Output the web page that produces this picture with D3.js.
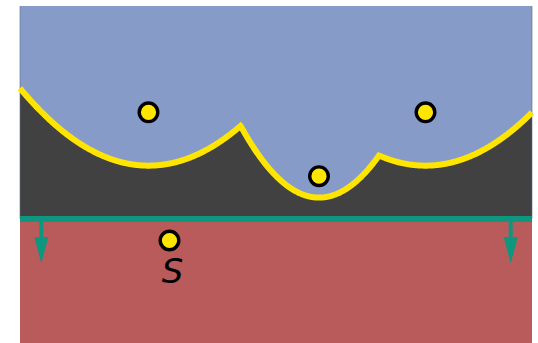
<!DOCTYPE html>
<html>
<head>
<meta charset="utf-8">
<script src="https://cdn.jsdelivr.net/npm/d3@7"></script>
<style>
body { margin: 0; background: #fff; }
</style>
</head>
<body>
<script>
var w = 538, h = 343;
var margin = {top: 6, right: 6, bottom: 0, left: 20};

// sites above the sweep line (beach line arcs) and the next site below it
var siteX = [128.5, 299, 405.5];
var siteY = [106.3, 170.2, 106.3];
var nextSite = {x: 149.5, y: 234.5, label: "S"};
var sweepY = 213;
var arrowX = [21.3, 490.7];
var arrowLen = 44;

var xScale = d3.scaleLinear().domain([0, 512]).range([margin.left, w - margin.right]);
var yScale = d3.scaleLinear().domain([0, 337]).range([margin.top, h - margin.bottom]);

var svg = d3.select('body').append('svg')
    .attr('width', w)
    .attr('height', h);

svg.append('defs').append('marker')
    .attr('id', 'arrow')
    .attr('viewBox', '0 0 10 10')
    .attr('refX', 0)
    .attr('refY', 5)
    .attr('markerWidth', 6.6)
    .attr('markerHeight', 3.5)
    .attr('markerUnits', 'strokeWidth')
    .attr('orient', 'auto')
    .attr('preserveAspectRatio', 'none')
    .append('path')
    .attr('d', 'M0,0 L10,5 L0,10 z')
    .attr('fill', '#0f967e');

// beach line: for each x take the parabola closest to the sweep line
function arcY(i, x) {
    var a = siteX[i], b = siteY[i], d = sweepY;
    return ((x - a) * (x - a) + b * b - d * d) / (2 * (b - d));
}
var xs = d3.range(0, 512.5, 0.5);
var beach = xs.map(function (x) {
    var y = d3.max(siteX.map(function (a, i) { return arcY(i, x); }));
    return [x, y];
});

// blue sky above the beach line
svg.append('rect')
    .attr('x', xScale(0)).attr('y', yScale(0))
    .attr('width', xScale(512) - xScale(0))
    .attr('height', yScale(sweepY) - yScale(0))
    .attr('fill', '#879bc9');

// dark gray between beach line and sweep line
var area = d3.area()
    .x(function (d) { return xScale(d[0]); })
    .y0(yScale(sweepY))
    .y1(function (d) { return yScale(d[1]); });
svg.append('path')
    .datum(beach)
    .attr('d', area)
    .attr('fill', '#414141');

// red below the sweep line
svg.append('rect')
    .attr('x', xScale(0)).attr('y', yScale(sweepY))
    .attr('width', xScale(512) - xScale(0))
    .attr('height', yScale(337) - yScale(sweepY))
    .attr('fill', '#b95b5a');

// frame sides
svg.selectAll('.side')
    .data([0, 512])
    .enter().append('line')
    .attr('class', 'side')
    .attr('x1', function (d) { return xScale(d); })
    .attr('x2', function (d) { return xScale(d); })
    .attr('y1', yScale(0))
    .attr('y2', yScale(sweepY))
    .attr('stroke', '#5d6a88')
    .attr('stroke-opacity', 0.6)
    .attr('stroke-width', 1);

// beach line curve
var line = d3.line()
    .x(function (d) { return xScale(d[0]); })
    .y(function (d) { return yScale(d[1]); });
svg.append('path')
    .datum(beach)
    .attr('d', line)
    .attr('fill', 'none')
    .attr('stroke', '#ffe500')
    .attr('stroke-width', 6)
    .attr('stroke-linejoin', 'miter');

// sweep line and arrows
svg.selectAll('.arrow')
    .data(arrowX)
    .enter().append('line')
    .attr('class', 'arrow')
    .attr('x1', function (d) { return xScale(d); })
    .attr('x2', function (d) { return xScale(d); })
    .attr('y1', yScale(sweepY))
    .attr('y2', yScale(sweepY + arrowLen - 26))
    .attr('stroke', '#0f967e')
    .attr('stroke-width', 4)
    .attr('marker-end', 'url(#arrow)');

svg.append('line')
    .attr('x1', xScale(0)).attr('x2', xScale(512))
    .attr('y1', yScale(sweepY)).attr('y2', yScale(sweepY))
    .attr('stroke', '#0f967e')
    .attr('stroke-width', 6);

// sites
var pts = siteX.map(function (x, i) { return {x: x, y: siteY[i]}; }).concat([nextSite]);
svg.selectAll('.site')
    .data(pts)
    .enter().append('circle')
    .attr('class', 'site')
    .attr('cx', function (d) { return xScale(d.x); })
    .attr('cy', function (d) { return yScale(d.y); })
    .attr('r', 9.3)
    .attr('fill', '#ffe500')
    .attr('stroke', '#000')
    .attr('stroke-width', 3.4);

svg.append('text')
    .attr('x', xScale(nextSite.x) + 3)
    .attr('y', yScale(nextSite.y) + 42.5)
    .attr('text-anchor', 'middle')
    .style('font-family', 'DejaVu Sans')
    .style('font-style', 'oblique')
    .style('font-size', '34px')
    .attr('fill', '#000')
    .text(nextSite.label);
</script>
</body>
</html>
